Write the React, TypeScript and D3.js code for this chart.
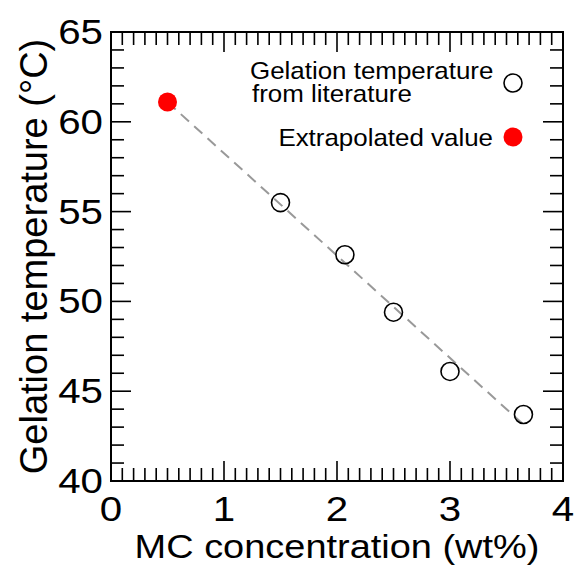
import * as d3 from 'd3';

// literature gelation temperatures
const mcConc = [1.5, 2.07, 2.5, 3.0, 3.65];
const gelTemp = [55.5, 52.6, 49.4, 46.1, 43.7];

// extrapolated point
const extrapConc = [0.5];
const extrapTemp = [61.1];

// linear fit drawn as dashed line
const fitConc = [0.5, 3.64];
const fitTemp = [61.1, 43.2];

const xTicks = [0, 1, 2, 3, 4];
const yTicks = [40, 45, 50, 55, 60, 65];

const FONT = '"Liberation Sans", Arial, Helvetica, sans-serif';
// the original figure is a bit wider than tall, text looks stretched
const SX = 1.15;

function Txt({ x, y, sx = SX, size, anchor = 'start', children }: any) {
  return (
    <text
      transform={`translate(${x},${y}) scale(${sx},1)`}
      textAnchor={anchor}
      fontSize={size}
    >
      {children}
    </text>
  );
}

export default function App() {
  const width = 575;
  const height = 566;
  const margin = { top: 32, right: 12, bottom: 85, left: 111 };
  const innerW = width - margin.left - margin.right;
  const innerH = height - margin.top - margin.bottom;

  const x = d3.scaleLinear().domain([0, 4]).range([0, innerW]);
  const y = d3.scaleLinear().domain([40, 65]).range([innerH, 0]);

  const minorX = d3.range(0, 40.5, 1).map((d) => d / 10);
  const minorY = d3.range(40, 65.5, 1);

  const line = d3
    .line<number>()
    .x((_, i) => x(fitConc[i]))
    .y((d) => y(d));

  const isMajorX = (v: number) => Math.abs(v - Math.round(v)) < 1e-6;
  const isMajorY = (v: number) => v % 5 === 0;

  return (
    <svg
      width={width}
      height={height}
      style={{ position: 'absolute', left: 0, top: 0, background: '#fff' }}
      fontFamily={FONT}
    >
      <g transform={`translate(${margin.left},${margin.top})`}>
        {/* ticks, inward on all sides */}
        <g stroke="#000" strokeWidth={1.6}>
          {minorX.map((v) => {
            const len = isMajorX(v) ? 20 : 13;
            return (
              <g key={`x${v}`}>
                <line x1={x(v)} x2={x(v)} y1={innerH} y2={innerH - len} />
                <line x1={x(v)} x2={x(v)} y1={0} y2={len} />
              </g>
            );
          })}
          {minorY.map((v) => {
            const len = isMajorY(v) ? 20 : 13;
            return (
              <g key={`y${v}`}>
                <line x1={0} x2={len} y1={y(v)} y2={y(v)} />
                <line x1={innerW} x2={innerW - len} y1={y(v)} y2={y(v)} />
              </g>
            );
          })}
        </g>
        <rect width={innerW} height={innerH} fill="none" stroke="#000" strokeWidth={2} />

        {/* tick labels */}
        {xTicks.map((v) => (
          <Txt key={`xl${v}`} x={x(v)} y={innerH + 40} anchor="middle" size={35}>
            {v}
          </Txt>
        ))}
        {yTicks.map((v) => (
          <Txt key={`yl${v}`} x={-8} y={y(v) + 12} anchor="end" size={35}>
            {v}
          </Txt>
        ))}

        {/* fit line */}
        <path
          d={line(fitTemp) || ''}
          fill="none"
          stroke="#999"
          strokeWidth={2}
          strokeDasharray="11,7"
        />

        {/* literature points */}
        {mcConc.map((c, i) => (
          <circle
            key={`p${i}`}
            cx={x(c)}
            cy={y(gelTemp[i])}
            r={9}
            fill="none"
            stroke="#000"
            strokeWidth={1.6}
          />
        ))}

        {/* extrapolated */}
        {extrapConc.map((c, i) => (
          <circle key={`e${i}`} cx={x(c)} cy={y(extrapTemp[i])} r={9.5} fill="#f00" />
        ))}

        {/* legend */}
        <Txt x={139} y={47} size={24} sx={1.08}>Gelation temperature</Txt>
        <Txt x={141} y={70} size={24} sx={1.08}>from literature</Txt>
        <circle cx={402} cy={51} r={9} fill="none" stroke="#000" strokeWidth={1.6} />
        <Txt x={382} y={114} size={24} sx={1.08} anchor="end">Extrapolated value</Txt>
        <circle cx={402} cy={105} r={9.5} fill="#f00" />

        {/* x axis title */}
        <Txt x={innerW / 2} y={innerH + 77} anchor="middle" size={33}>
          MC concentration (wt%)
        </Txt>
      </g>
      <text
        transform={`translate(47,${margin.top + innerH / 2}) rotate(-90)`}
        textAnchor="middle"
        fontSize={38}
      >
        Gelation temperature (°C)
      </text>
    </svg>
  );
}
